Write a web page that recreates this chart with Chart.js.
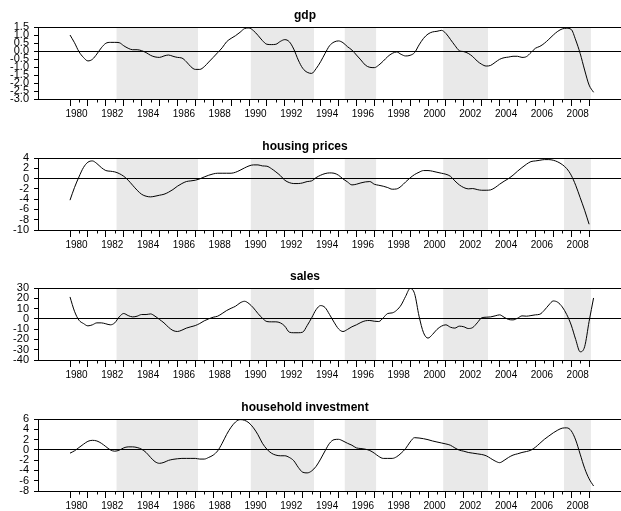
<!DOCTYPE html>
<html>
<head>
<meta charset="utf-8">
<script src="https://cdn.jsdelivr.net/npm/chart.js@4.4.1/dist/chart.umd.min.js"></script>
<style>
html,body{margin:0;padding:0;background:#fff;width:621px;height:511px;overflow:hidden;position:relative;}
canvas{position:absolute;left:-11px;display:block;}
</style>
</head>
<body>
<canvas id="c0" width="632" height="130" style="top:0px"></canvas>
<canvas id="c1" width="632" height="130" style="top:131px"></canvas>
<canvas id="c2" width="632" height="130" style="top:261px"></canvas>
<canvas id="c3" width="632" height="130" style="top:392px"></canvas>
<script>
// quarterly observations, 1980Q1 .. 2009Q2
const quarters = Array.from({length: 118}, (_, i) => 1980 + i / 4);

const gdp = [
  1.0,0.52,-0.04,-0.4,
  -0.62,-0.52,-0.19,0.2,
  0.48,0.54,0.54,0.52,
  0.33,0.17,0.08,0.08,
  0.02,-0.1,-0.27,-0.37,
  -0.4,-0.31,-0.25,-0.33,
  -0.4,-0.44,-0.67,-0.98,
  -1.15,-1.15,-0.98,-0.69,
  -0.4,-0.1,0.2,0.58,
  0.79,0.96,1.17,1.4,
  1.44,1.27,0.98,0.65,
  0.42,0.4,0.42,0.6,
  0.71,0.58,0.12,-0.56,
  -1.08,-1.33,-1.4,-1.1,
  -0.67,-0.15,0.33,0.56,
  0.63,0.52,0.27,0.06,
  -0.25,-0.56,-0.88,-1.02,
  -1.04,-0.88,-0.63,-0.35,
  -0.15,-0.06,-0.21,-0.31,
  -0.27,-0.1,0.38,0.79,
  1.06,1.19,1.23,1.29,
  1.1,0.73,0.35,0.02,
  -0.04,-0.15,-0.35,-0.63,
  -0.83,-0.94,-0.9,-0.71,
  -0.52,-0.42,-0.38,-0.33,
  -0.33,-0.4,-0.35,-0.1,
  0.17,0.29,0.48,0.73,
  1.0,1.23,1.38,1.42,
  1.35,0.69,-0.15,-1.19,
  -2.13,-2.58
];

const housingPrices = [
  -4.2,-1.75,0.32,2.14,
  3.18,3.43,2.92,2.14,
  1.56,1.43,1.3,0.97,
  0.45,-0.32,-1.3,-2.27,
  -3.05,-3.43,-3.56,-3.43,
  -3.24,-3.05,-2.66,-2.14,
  -1.49,-0.97,-0.58,-0.45,
  -0.32,-0.06,0.32,0.65,
  0.91,1.04,1.04,1.04,
  1.04,1.23,1.62,2.07,
  2.46,2.66,2.66,2.46,
  2.4,1.94,1.3,0.58,
  -0.32,-0.78,-0.97,-0.97,
  -0.84,-0.58,-0.45,0.19,
  0.65,0.97,1.1,1.04,
  0.65,-0.06,-0.65,-1.23,
  -1.1,-0.84,-0.65,-0.58,
  -1.1,-1.3,-1.49,-1.75,
  -2.07,-2.01,-1.49,-0.65,
  0.13,0.78,1.23,1.56,
  1.56,1.43,1.23,1.04,
  0.84,0.45,-0.45,-1.23,
  -1.75,-2.0,-1.94,-2.14,
  -2.27,-2.27,-2.2,-1.75,
  -1.1,-0.52,0.0,0.65,
  1.43,2.14,2.79,3.3,
  3.43,3.56,3.69,3.69,
  3.56,3.24,2.72,1.94,
  0.65,-1.3,-3.7,-6.16,
  -8.88,null
];

const sales = [
  21.3,7.4,-1.3,-4.5,
  -6.8,-5.8,-3.9,-3.9,
  -4.8,-5.8,-3.9,1.9,
  5.2,3.2,1.9,2.6,
  4.2,4.2,4.8,2.6,
  -0.6,-3.9,-8.1,-11.3,
  -12.3,-11,-9,-7.7,
  -6.5,-4.5,-1.9,0,
  1.6,2.6,5.2,8.1,
  10.3,12.3,15.5,17.1,
  14.8,10.6,5.2,0.6,
  -2.6,-2.9,-2.9,-3.9,
  -7.1,-12.9,-13.5,-13.5,
  -12.9,-6.5,1,9,
  12.9,11,4.2,-3.2,
  -9.7,-12.3,-10.3,-7.7,
  -5.8,-3.5,-1.9,-1.6,
  -2.3,-2.6,1,5.2,
  5.8,8.4,13.5,21.9,
  29.5,24.5,2.6,-13.5,
  -18.7,-15.2,-10.3,-7.1,
  -5.8,-8.1,-9,-7.1,
  -7.7,-9.4,-8.4,-3.9,
  1,1.6,1.9,2.9,
  3.9,1.6,-0.6,-1,
  0.6,2.9,2.6,3.2,
  3.9,4.5,8.4,13.5,
  17.4,16.1,11.6,4.2,
  -6,-20,-32,-27.1,
  -2.5,20.3
];

const householdInvestment = [
  -0.64,-0.19,0.45,1.09,
  1.66,1.85,1.73,1.28,
  0.64,0,-0.26,-0.06,
  0.38,0.58,0.58,0.45,
  0.13,-0.51,-1.47,-2.3,
  -2.62,-2.43,-2.05,-1.85,
  -1.73,-1.66,-1.66,-1.66,
  -1.66,-1.79,-1.79,-1.47,
  -1.02,-0.19,1.28,3.0,
  4.41,5.43,5.88,5.75,
  5.24,4.28,2.94,1.28,
  0.13,-0.64,-1.02,-1.15,
  -1.15,-1.47,-2.11,-3.39,
  -4.35,-4.48,-4.1,-3.2,
  -1.79,-0.19,1.28,1.98,
  2.05,1.73,1.28,0.9,
  0.38,0.26,0.13,-0.13,
  -0.64,-1.28,-1.66,-1.66,
  -1.66,-1.34,-0.64,0.26,
  1.53,2.37,2.3,2.17,
  1.98,1.73,1.53,1.34,
  1.15,0.9,0.38,-0.06,
  -0.26,-0.51,-0.64,-0.77,
  -0.9,-1.15,-1.66,-2.17,
  -2.49,-2.05,-1.47,-1.02,
  -0.77,-0.51,-0.32,-0.06,
  0.51,1.28,2.05,2.69,
  3.32,3.84,4.22,4.28,
  3.71,1.92,-0.83,-3.58,
  -5.63,-7.03
];

const gdpTicks = [1.5,1.0,0.5,0.0,-0.5,-1.0,-1.5,-2.0,-2.5,-3.0];
const housingTicks = [4,2,0,-2,-4,-6,-8,-10];
const salesTicks = [30,20,10,0,-10,-20,-30,-40];
const householdTicks = [6,4,2,0,-2,-4,-6,-8];

const yearTicks = [1980,1981,1982,1983,1984,1985,1986,1987,1988,1989,1990,1991,1992,1993,1994,
  1995,1996,1997,1998,1999,2000,2001,2002,2003,2004,2005,2006,2007,2008,2009];
const yearLabels = [1980,1982,1984,1986,1988,1990,1992,1994,1996,1998,2000,2002,2004,2006,2008];

const recessionStart = [1982.6, 1990.1, 1995.35, 2000.85, 2007.6];
const recessionEnd   = [1987.15, 1993.63, 1997.1, 2003.35, 2009.1];

const titles = ['gdp', 'housing prices', 'sales', 'household investment'];

const FONT = "'Liberation Sans', Arial, Helvetica, sans-serif";
const X_MIN = 1978.212, X_MAX = 2010.782;

const shadePlugin = {
  id: 'shade',
  beforeDraw(chart) {
    const {ctx, chartArea: a} = chart;
    const x = chart.scales.x;
    ctx.save();
    ctx.fillStyle = '#e9e9e9';
    recessionStart.forEach((s, i) => {
      const x1 = x.getPixelForValue(s), x2 = x.getPixelForValue(recessionEnd[i]);
      ctx.fillRect(x1, a.top, x2 - x1, a.bottom - a.top);
    });
    ctx.restore();
  }
};

const minorTickPlugin = {
  id: 'minorTicks',
  afterDraw(chart) {
    const xs = chart.scales.x, ctx = chart.ctx;
    const y0 = chart.chartArea.bottom;
    ctx.save();
    ctx.strokeStyle = '#000';
    ctx.lineWidth = 1;
    ctx.beginPath();
    yearTicks.slice(0, -1).forEach(v => {
      const px = Math.round(xs.getPixelForValue(v + 0.5)) + 0.5;
      ctx.moveTo(px, y0);
      ctx.lineTo(px, y0 + 3.5);
    });
    ctx.stroke();
    ctx.restore();
  }
};

function makeChart(id, title, values, yTicks, decimals) {
  const yMin = Math.min(...yTicks), yMax = Math.max(...yTicks);
  return new Chart(document.getElementById(id), {
    type: 'line',
    data: {
      datasets: [{
        data: quarters.map((q, i) => ({x: q, y: values[i]})),
        borderColor: '#000',
        borderWidth: 1,
        pointRadius: 0,
        cubicInterpolationMode: 'monotone',
        fill: false,
        spanGaps: false
      }]
    },
    options: {
      responsive: false,
      animation: false,
      devicePixelRatio: 1,
      layout: {padding: 0},
      plugins: {
        legend: {display: false},
        tooltip: {enabled: false},
        title: {
          display: true, text: title, color: '#000',
          font: {family: FONT, size: 12, weight: 'bold', lineHeight: 1.2},
          padding: {top: 8, bottom: 4.6}
        }
      },
      scales: {
        x: {
          type: 'linear', min: X_MIN, max: X_MAX,
          afterBuildTicks: s => { s.ticks = yearTicks.map(v => ({value: v})); },
          afterFit: s => { s.height = 31; },
          grid: {drawOnChartArea: false, drawTicks: true, tickLength: 7, tickColor: '#000', tickWidth: 1},
          border: {display: true, color: '#000', width: 1},
          ticks: {
            autoSkip: false, maxRotation: 0, minRotation: 0, padding: 2, labelOffset: 6.5,
            color: '#000', font: {family: FONT, size: 10},
            callback: v => yearLabels.includes(v) ? String(v) : ''
          }
        },
        y: {
          min: yMin, max: yMax,
          afterBuildTicks: s => { s.ticks = yTicks.map(v => ({value: v})); },
          afterFit: s => { s.width = 49; },
          grid: {
            color: c => (c.tick && (c.tick.value === 0 || c.tick.value === yMax)) ? '#000' : 'rgba(0,0,0,0)',
            tickColor: '#000', tickLength: 4, drawTicks: true, lineWidth: 1
          },
          border: {display: true, color: '#000', width: 1},
          ticks: {
            autoSkip: false, padding: 5, color: '#000', font: {family: FONT, size: 11},
            callback: v => Number(v).toFixed(decimals)
          }
        }
      }
    },
    plugins: [shadePlugin, minorTickPlugin]
  });
}

makeChart('c0', titles[0], gdp, gdpTicks, 1);
makeChart('c1', titles[1], housingPrices, housingTicks, 0);
makeChart('c2', titles[2], sales, salesTicks, 0);
makeChart('c3', titles[3], householdInvestment, householdTicks, 0);
</script>
</body>
</html>
